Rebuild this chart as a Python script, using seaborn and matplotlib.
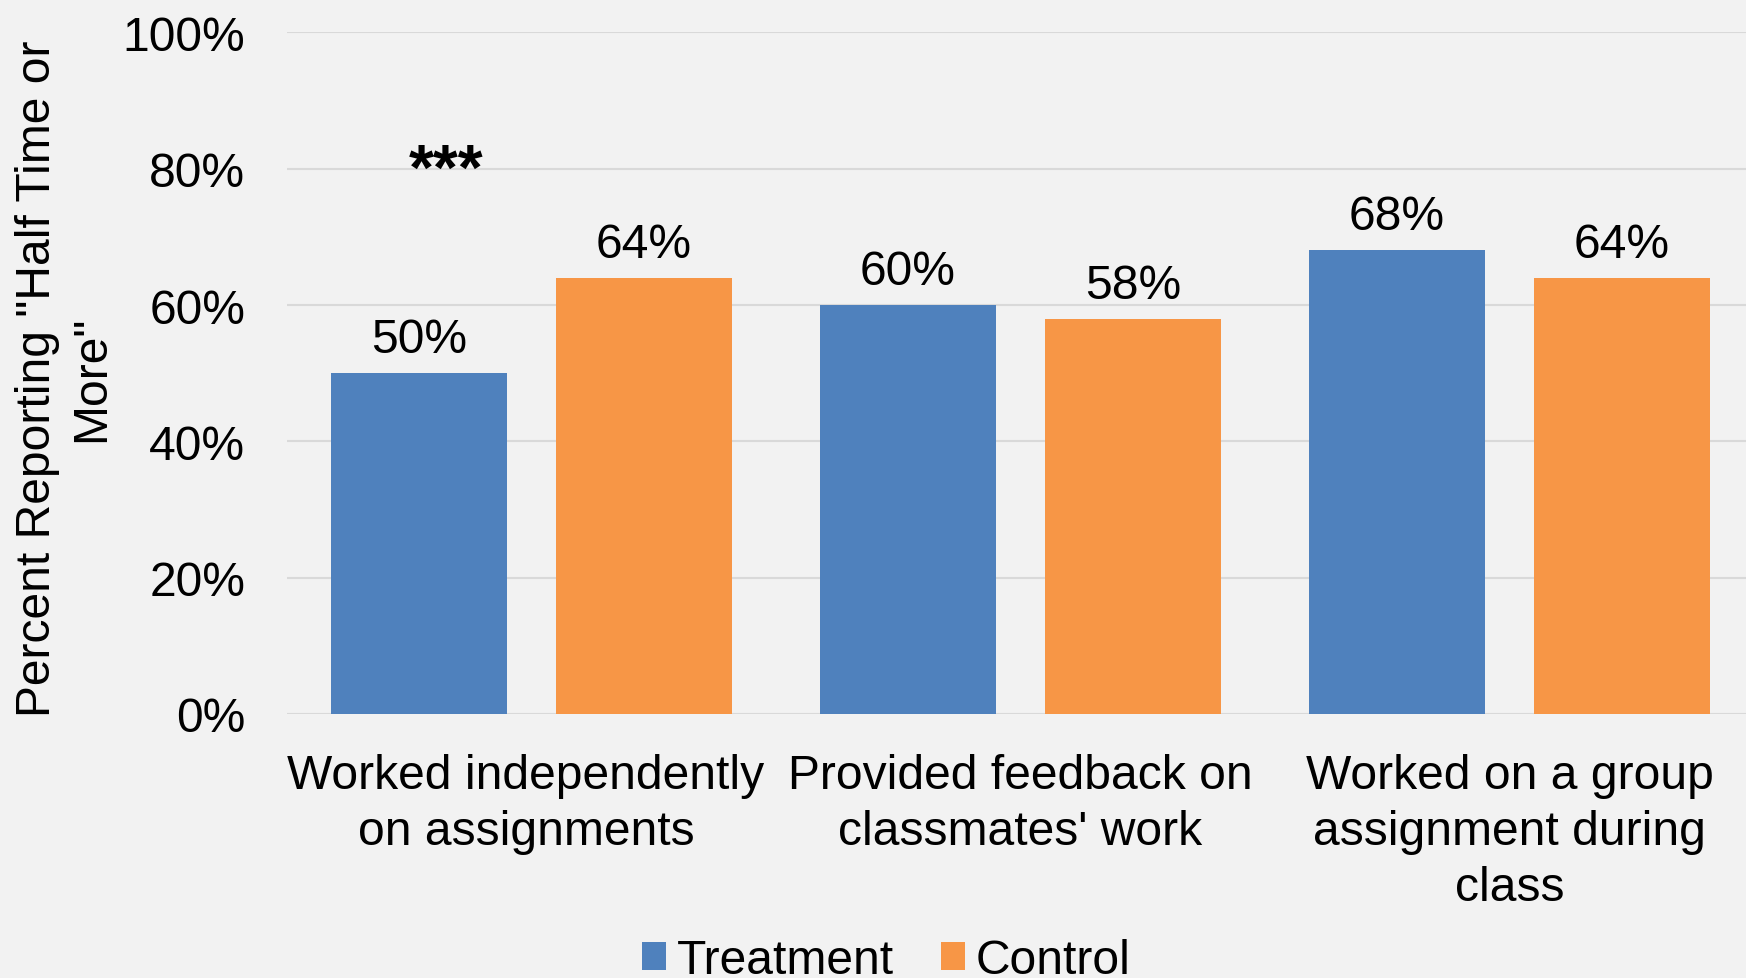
import matplotlib
matplotlib.use("Agg")
import matplotlib.pyplot as plt
import matplotlib.transforms as mtransforms
import seaborn as sns
import pandas as pd

# Survey activities and share of students reporting "half time or more"
categories = [
    "Worked independently\non assignments",
    "Provided feedback on\nclassmates' work",
    "Worked on a group\nassignment during\nclass",
]
groups = ["Treatment", "Control"]
treatment_values = [0.50, 0.60, 0.68]
control_values = [0.64, 0.58, 0.64]
y_ticks = [0.0, 0.2, 0.4, 0.6, 0.8, 1.0]
y_tick_labels = ["0%", "20%", "40%", "60%", "80%", "100%"]
significance = ["***", "", ""]

colors = {"Treatment": "#4F81BD", "Control": "#F79646"}
bg = "#F2F2F2"
grid_color = "#D9D9D9"

df = pd.DataFrame({
    "Activity": categories * 2,
    "Group": ["Treatment"] * len(categories) + ["Control"] * len(categories),
    "Value": treatment_values + control_values,
})

sns.set_style("white", {"axes.facecolor": bg, "figure.facecolor": bg})
plt.rcParams["font.family"] = ["Liberation Sans", "DejaVu Sans"]
plt.rcParams.update({
    "text.color": "black",
    "axes.labelcolor": "black",
    "xtick.color": "black",
    "ytick.color": "black",
})
FS = 34.6

fig = plt.figure(figsize=(17.46, 9.79), dpi=100, facecolor=bg)
ax = fig.add_axes([0.1644, 0.2697, 0.8402, 0.6962])
ax.set_facecolor(bg)

sns.barplot(
    data=df, x="Activity", y="Value", hue="Group", hue_order=groups,
    palette=colors, saturation=1, width=0.92, gap=0.217,
    errorbar=None, ax=ax, zorder=3, linewidth=0,
)

for container in ax.containers:
    ax.bar_label(
        container,
        labels=[f"{v * 100:.0f}%" for v in container.datavalues],
        padding=8, fontsize=FS, color="black",
    )

for i, mark in enumerate(significance):
    if mark:
        ax.text(i - 0.175, 0.771, mark, ha="center", va="baseline",
                fontsize=46, fontweight="bold", color="black")

ax.set_ylim(0, 1.0)
ax.set_xlim(-0.5, len(categories) - 0.5)
ax.set_yticks(y_ticks)
ax.set_yticklabels(y_tick_labels, fontsize=FS)
ax.tick_params(axis="y", length=0, pad=30)
ax.tick_params(axis="x", length=0, pad=28, labelsize=FS)
for lbl in ax.get_xticklabels():
    lbl.set_linespacing(1.32)
# nudge the first category label slightly left
first = ax.get_xticklabels()[0]
first.set_transform(first.get_transform() +
                    mtransforms.ScaledTranslation(-4 / 72, 0, fig.dpi_scale_trans))
ax.set_xlabel("")
ax.set_ylabel('Percent Reporting "Half Time or\nMore"', fontsize=FS,
              linespacing=1.25)
ax.yaxis.set_label_coords(-0.118, 0.493)

for y in y_ticks:
    ax.axhline(y, color=grid_color, lw=1.5, zorder=1)
for s in ax.spines.values():
    s.set_visible(False)

sns.move_legend(
    ax, "center", bbox_to_anchor=(0.5075, 0.018),
    bbox_transform=fig.transFigure, ncol=2, frameon=False, title=None,
    fontsize=FS, handlelength=0.5, handleheight=0.5, handletextpad=0.23,
    columnspacing=0.97, borderpad=0, borderaxespad=0,
)

fig.savefig("out.png", dpi=100, facecolor=bg)
